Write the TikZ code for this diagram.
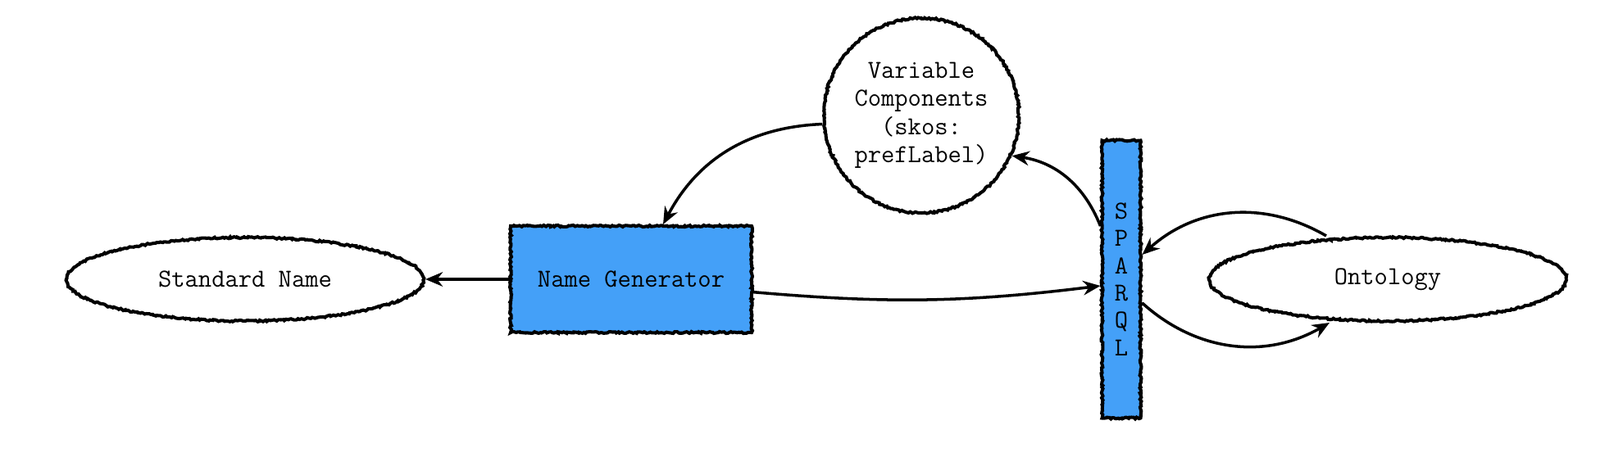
\documentclass[tikz,border=0pt]{standalone}
\usepackage{tikz}
\usepackage{xcolor}
\usetikzlibrary{shapes.geometric,arrows.meta,decorations.pathmorphing}
\definecolor{boxblue}{RGB}{68,160,248}

\begin{document}
\begin{tikzpicture}[
    every node/.style = {font=\ttfamily\fontsize{18}{19.6}\selectfont,
      align=center, draw, line width=2.3pt, inner sep=0pt,
      decorate, decoration={random steps, segment length=1.2pt, amplitude=0.6pt}},
    oval/.style = {ellipse, minimum width=8.72cm, minimum height=2.04cm, fill=white},
    blob/.style = {circle, minimum size=4.76cm, fill=white},
    box/.style = {rectangle, fill=boxblue},
    link/.style = {-{Stealth[length=12pt,width=10pt]}, line width=2pt}]
    \useasboundingbox (0,0) rectangle (39.04,11.36);
    \node[oval] (std) at (5.98,4.54) {Standard Name};
    \node[box, minimum width=5.88cm, minimum height=2.6cm] (gen) at (15.4,4.54) {Name Generator};
    \node[blob] (var) at (22.48,8.54) {Variable\\Components\\(skos:\\prefLabel)};
    \node[box, minimum width=0.94cm, minimum height=6.78cm,
      font=\ttfamily\fontsize{18}{19}\selectfont] (sq) at (27.36,4.54) {S\\P\\A\\R\\Q\\L};
    \node[oval] (ont) at (33.86,4.54) {Ontology};
    \draw[link] (gen.west) -- (std.east);
    \draw[link] (gen.-6) to[bend right=6] ([yshift=-0.16cm]sq.west);
    \draw[link] ([yshift=1.3cm]sq.west) to[bend right=30] (var.-24);
    \draw[link] (var.185) to[bend right=30] ([xshift=0.78cm]gen.north);
    \draw[link] ([xshift=-1.5cm]ont.north) to[bend right=36] ([yshift=0.6cm]sq.east);
    \draw[link] ([yshift=-0.58cm]sq.east) to[bend right=36] ([xshift=-1.42cm]ont.south);
\end{tikzpicture}
\end{document}
